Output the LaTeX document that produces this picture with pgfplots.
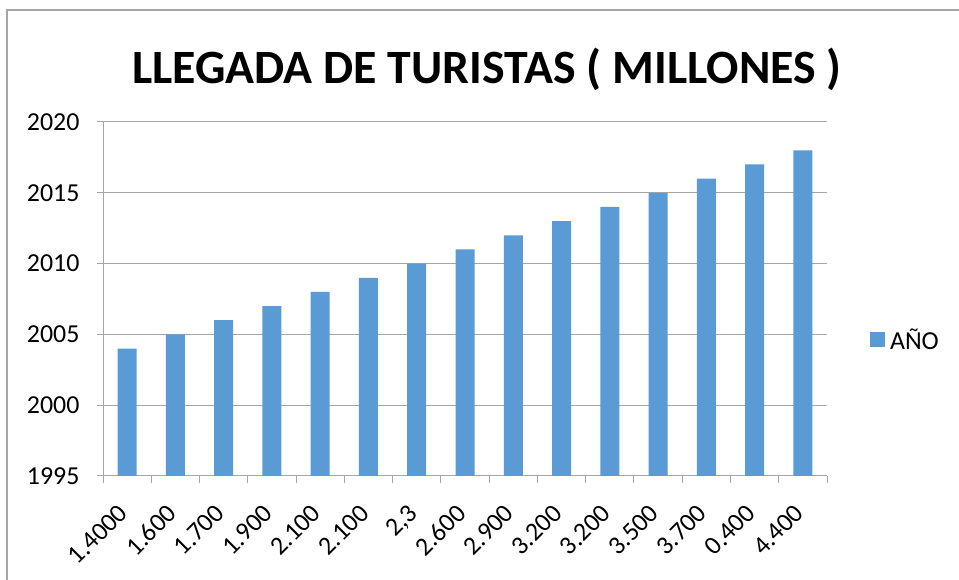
\documentclass[border=0pt]{standalone}
\usepackage{fontspec}
\setmainfont{Carlito}
\usepackage{pgfplots}
\pgfplotsset{compat=1.18}
\definecolor{barblue}{HTML}{5B9BD5}
\definecolor{gridgray}{HTML}{A6A6A6}
\begin{document}
\begin{tikzpicture}[x=1bp,y=1bp]
\path[use as bounding box] (0,0) rectangle (959,580);
\fill[white] (0,0) rectangle (959,580);
\draw[gridgray,line width=1.2bp] (7,0) -- (7,570) -- (959,570);
\node[font=\fontsize{48}{52}\selectfont\bfseries] at (487,511) {LLEGADA DE TURISTAS ( MILLONES )};
\begin{axis}[
  at={(103bp,104bp)}, anchor=south west,
  scale only axis, width=724bp, height=354bp,
  xmin=-0.5, xmax=14.5, ymin=1995, ymax=2020,
  ytick={1995,2000,...,2020},
  xtick={0,...,14},
  xticklabels={1.4000,1.600,1.700,1.900,2.100,2.100,{2{,}3},2.600,2.900,3.200,3.200,3.500,3.700,0.400,4.400},
  minor xtick={-0.5,0.5,...,14.5},
  major x tick style={draw=none},
  minor x tick style={gridgray,line width=1bp},
  major y tick style={gridgray,line width=1bp},
  tick align=outside,
  minor tick length=7bp, major tick length=6bp,
  axis x line*=bottom, axis y line*=left,
  axis line style={gridgray,line width=1bp,-},
  ymajorgrids, grid style={gridgray,line width=1bp},
  /pgf/number format/assume math mode=true,
  /pgf/number format/1000 sep={},
  yticklabel style={font=\fontsize{26}{28}\selectfont, xshift=-14bp},
  xticklabel style={font=\fontsize{26}{28}\selectfont, xshift=-10bp, yshift=-16bp, rotate=45, anchor=north east},
  ybar, bar width=19bp,
  legend style={at={(1.055,0.385)}, anchor=west, draw=none, font=\fontsize{26}{28}\selectfont,
    /tikz/every even column/.append style={column sep=0bp}},
  legend image code/.code={\fill[barblue] (0bp,-7bp) rectangle (15bp,8bp);},
  legend cell align=left,
]
\addplot[fill=barblue, draw=none] coordinates {
(0,2004) (1,2005) (2,2006) (3,2007) (4,2008) (5,2009) (6,2010) (7,2011)
(8,2012) (9,2013) (10,2014) (11,2015) (12,2016) (13,2017) (14,2018)};
\addlegendentry{\hspace{3bp}AÑO}
\end{axis}
\end{tikzpicture}
\end{document}
